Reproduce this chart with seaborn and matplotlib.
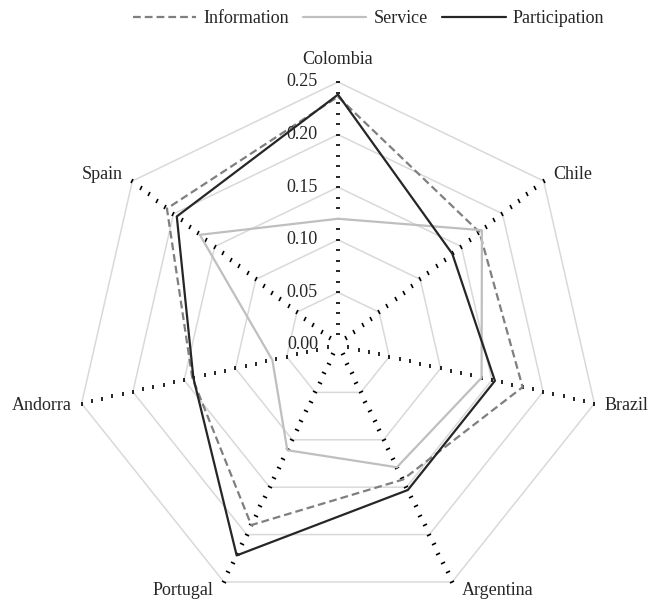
import numpy as np
import pandas as pd
import matplotlib
matplotlib.use('Agg')
import matplotlib.pyplot as plt
import seaborn as sns
from matplotlib.markers import MarkerStyle
from matplotlib.transforms import Affine2D

# values
countries = ['Colombia', 'Chile', 'Brazil', 'Argentina', 'Portugal', 'Andorra', 'Spain']
information = [0.236, 0.172, 0.180, 0.142, 0.190, 0.142, 0.208]
service = [0.120, 0.175, 0.140, 0.129, 0.111, 0.064, 0.168]
participation = [0.238, 0.139, 0.153, 0.153, 0.222, 0.141, 0.196]

series_names = ['Information', 'Service', 'Participation']
ring_values = [0.05, 0.10, 0.15, 0.20, 0.25]
tick_values = [0.00, 0.05, 0.10, 0.15, 0.20, 0.25]
tick_labels = ['0.00', '0.05', '0.10', '0.15', '0.20', '0.25']

sns.set_style('white')
plt.rcParams['font.family'] = ['Liberation Serif', 'DejaVu Serif']

fig = plt.figure(figsize=(6.51, 6.06), dpi=100)
ax = fig.add_axes([0.1152, -0.0033, 0.808, 0.868], projection='polar')
ax.set_theta_offset(np.pi / 2)
ax.set_theta_direction(-1)

n = len(countries)
angles = np.arange(n) * 2 * np.pi / n
closed = np.append(angles, 2 * np.pi)

rows = []
for name, vals in zip(series_names, [information, service, participation]):
    for a, v in zip(closed, list(vals) + [vals[0]]):
        rows.append({'angle': a, 'value': v, 'series': name})
df = pd.DataFrame(rows)

# polygon gridlines
for r in ring_values:
    ax.plot(closed, [r] * len(closed), color='#d9d9d9', lw=1.1, zorder=1, clip_on=False)

# dotted spokes made of small tick marks
rs = np.arange(1, 26) * 0.01
for i, a in enumerate(angles):
    phi = 90 - i * 360 / n
    m = MarkerStyle('_', transform=Affine2D().rotate_deg(phi + 90))
    ax.plot(np.full(len(rs), a), rs, ls='none', marker=m, ms=3.2, mew=1.2,
            color='black', zorder=2, clip_on=False)

sns.lineplot(data=df, x='angle', y='value', hue='series', style='series',
             hue_order=series_names, style_order=series_names,
             palette={'Information': '#7f7f7f', 'Service': '#bfbfbf', 'Participation': '#262626'},
             dashes={'Information': (3.5, 1.8), 'Service': '', 'Participation': ''},
             sort=False, estimator=None, linewidth=1.6, ax=ax, zorder=3)

ax.set_ylim(0, 0.25)
ax.set_xticks([])
ax.set_yticks([])
ax.grid(False)
ax.spines['polar'].set_visible(False)
ax.patch.set_alpha(0)
ax.set_xlabel('')
ax.set_ylabel('')

# radial tick labels along the Colombia spoke
for r, lab in zip(tick_values, tick_labels):
    ax.annotate(lab, xy=(0, r), xytext=(-20, 0), textcoords='offset pixels',
                ha='right', va='center', fontsize=13)

# category labels
for i, (a, name) in enumerate(zip(angles, countries)):
    phi = np.deg2rad(90 - i * 360 / n)
    dx, dy = np.cos(phi), np.sin(phi)
    if dx > 0.3:
        ha = 'left'
    elif dx < -0.3:
        ha = 'right'
    else:
        ha = 'center'
    ox = 10 * np.sign(dx) if ha != 'center' else 0
    oy = 10 * dy + (12 if ha == 'center' else 0)
    ax.annotate(name, xy=(a, 0.25), xytext=(ox, oy), textcoords='offset pixels',
                ha=ha, va='center', fontsize=13, annotation_clip=False)

sns.move_legend(ax, 'center', bbox_to_anchor=(0.566, 0.969), bbox_transform=fig.transFigure,
                ncol=3, frameon=False, handlelength=3.5, handletextpad=0.4,
                columnspacing=0.8, fontsize=13)
ax.get_legend().set_title('')

fig.savefig('out.png', dpi=100)
